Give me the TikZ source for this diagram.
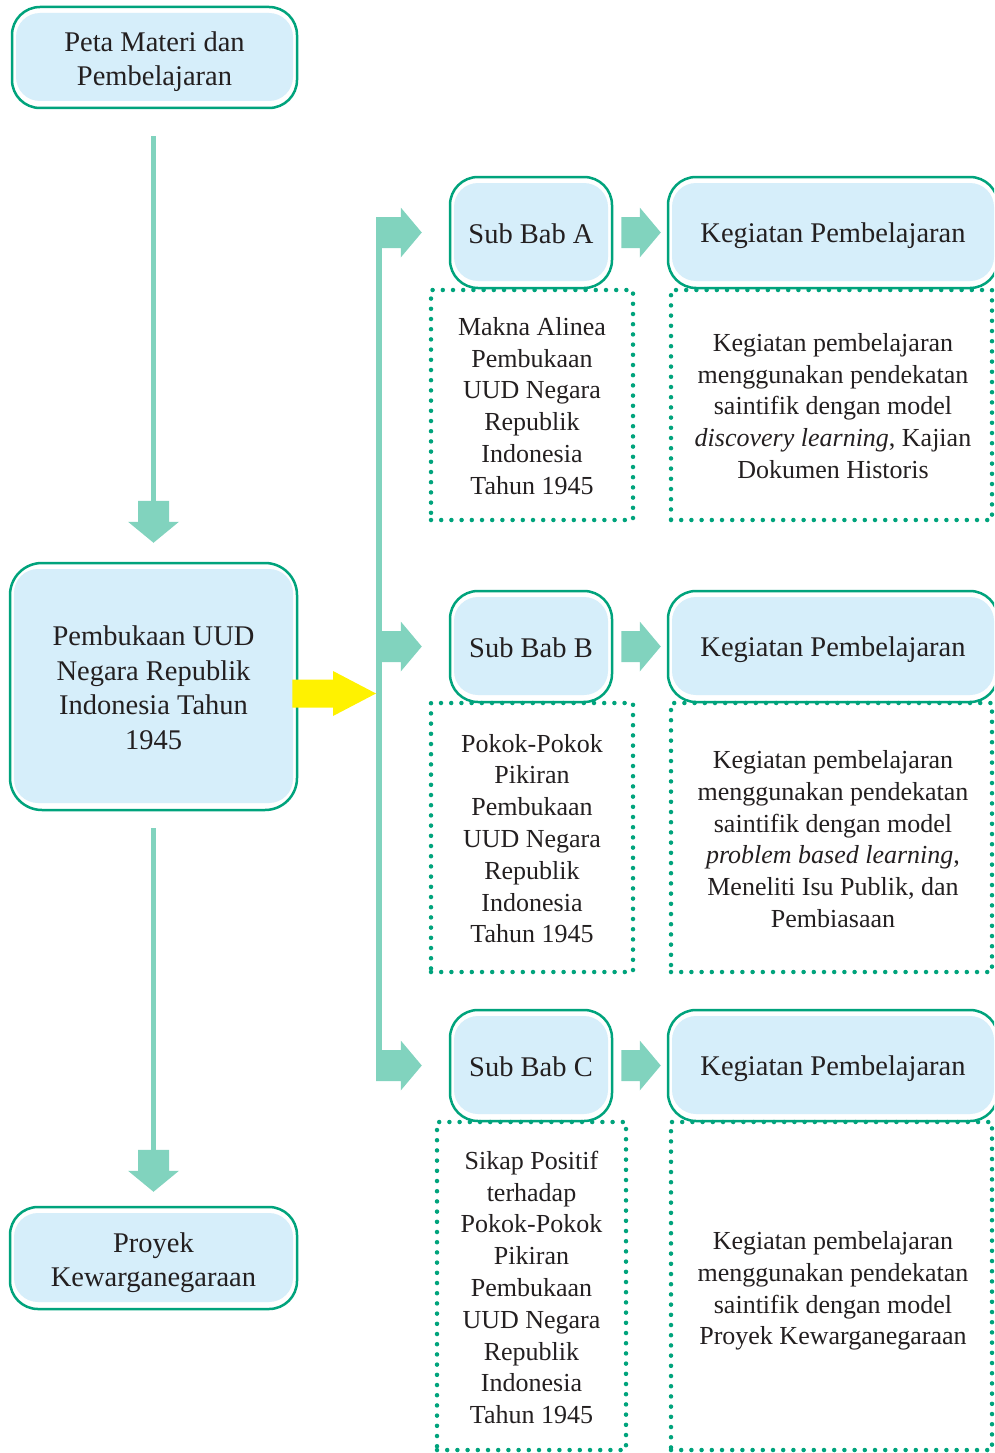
\documentclass[tikz,border=0pt]{standalone}
\usepackage{fontspec}
\setmainfont{Liberation Serif}
\usetikzlibrary{calc}
\definecolor{bgreen}{RGB}{0,163,124}
\definecolor{lblue}{RGB}{214,238,250}
\definecolor{ateal}{RGB}{129,211,190}
\definecolor{txt}{RGB}{35,31,32}
\definecolor{ayellow}{RGB}{255,242,0}
\newcommand\hdfont{\fontsize{28.5}{34.5}\selectfont}
\newcommand\bdfont{\fontsize{26}{31.8}\selectfont}
\tikzset{
 rbox/.style={draw=bgreen, line width=2.5pt, fill=white, rounded corners=28pt, inner sep=0pt,
   path picture={\fill[lblue, rounded corners=24pt] ([shift={(4pt,-6pt)}]path picture bounding box.north west) rectangle ([shift={(-4pt,7pt)}]path picture bounding box.south east);}},
 dbox/.style={draw=bgreen, line width=4.5pt, dash pattern=on 0pt off 10.2pt, line cap=round, inner sep=0pt},
 lblh/.style={font=\hdfont, align=center, text=txt, inner sep=0pt},
 lblb/.style={font=\bdfont, align=center, text=txt, inner sep=0pt},
}
\newcommand\downarrowblk[2]{%
 \draw[ateal, line width=5pt] let \p1=(#1), \p2=(#2) in (\x2,\y1) -- (\x2,\y2+41pt);
 \fill[ateal] let \p2=(#2) in (\x2-15.5pt,\y2+42pt) rectangle (\x2+15.5pt,\y2+21pt) (\x2-25.5pt,\y2+21pt) -- (\x2+25.5pt,\y2+21pt) -- (\x2,\y2) -- cycle;}
\newcommand\rightarrowblk[6]{%
 \fill[#6] let \p1=(#1), \p2=(#2) in (\x1,\y2+#3) -- (\x2-#5,\y2+#3) -- (\x2-#5,\y2+#4) -- (\x2,\y2) -- (\x2-#5,\y2-#4) -- (\x2-#5,\y2-#3) -- (\x1,\y2-#3) -- cycle;}
\begin{document}
\begin{tikzpicture}[x=1pt,y=-1pt]
\useasboundingbox (0,0) rectangle (994,1453);
\clip (0,0) rectangle (994,1453);
% left column
\node[rbox, minimum width=285pt, minimum height=101pt, label={[lblh, name=petaT, yshift=-4pt]center:{Peta Materi dan\\Pembelajaran}}] (peta) at (154.5,57.5) {};
\node[rbox, minimum width=287pt, minimum height=247pt, rounded corners=32pt, label={[lblh, name=mainT, yshift=-1pt]center:{Pembukaan UUD\\Negara Republik\\Indonesia Tahun\\1945}}] (main) at (153.5,686.5) {};
\node[rbox, minimum width=287pt, minimum height=102pt, label={[lblh, name=proyekT, yshift=-4.5pt]center:{Proyek\\Kewarganegaraan}}] (proyek) at (153.5,1258) {};
% sub bab boxes
\node[rbox, minimum width=162pt, minimum height=111pt, label={[lblh, name=subAT, yshift=-1pt]center:{Sub Bab A}}] (subA) at (531,232.5) {};
\node[rbox, minimum width=162pt, minimum height=111pt, label={[lblh, name=subBT, yshift=-1pt]center:{Sub Bab B}}] (subB) at (531,646.5) {};
\node[rbox, minimum width=162pt, minimum height=111pt, label={[lblh, name=subCT, yshift=-1pt]center:{Sub Bab C}}] (subC) at (531,1065.5) {};
\node[rbox, minimum width=330pt, minimum height=111pt, label={[lblh, name=kegAT, yshift=-3pt]center:{Kegiatan Pembelajaran}}] (kegA) at (833,232.5) {};
\node[rbox, minimum width=330pt, minimum height=111pt, label={[lblh, name=kegBT, yshift=-3pt]center:{Kegiatan Pembelajaran}}] (kegB) at (833,646.5) {};
\node[rbox, minimum width=330pt, minimum height=111pt, label={[lblh, name=kegCT, yshift=-3pt]center:{Kegiatan Pembelajaran}}] (kegC) at (833,1065.5) {};
% dotted boxes
\node[dbox, minimum width=202pt, minimum height=230pt, label={[lblb, name=dLAT, yshift=-1pt]center:{Makna Alinea\\Pembukaan\\UUD Negara\\Republik\\Indonesia\\Tahun 1945}}] (dLA) at (532,405) {};
\node[dbox, minimum width=321pt, minimum height=230pt, label={[lblb, name=dRAT, xshift=1.5pt, yshift=-1pt]center:{Kegiatan pembelajaran\\menggunakan pendekatan\\saintifik dengan model\\\textit{discovery learning}, Kajian\\Dokumen Historis}}] (dRA) at (831.5,405) {};
\node[dbox, minimum width=202pt, minimum height=269pt, label={[lblb, name=dLBT, yshift=-1pt]center:{Pokok-Pokok\\Pikiran\\Pembukaan\\UUD Negara\\Republik\\Indonesia\\Tahun 1945}}] (dLB) at (532,837.5) {};
\node[dbox, minimum width=321pt, minimum height=269pt, label={[lblb, name=dRBT, xshift=1.5pt, yshift=-1.5pt]center:{Kegiatan pembelajaran\\menggunakan pendekatan\\saintifik dengan model\\\textit{problem based learning},\\Meneliti Isu Publik, dan\\Pembiasaan}}] (dRB) at (831.5,837.5) {};
\node[dbox, minimum width=189pt, minimum height=328pt, label={[lblb, name=dLCT, yshift=-1.5pt]center:{Sikap Positif\\terhadap\\Pokok-Pokok\\Pikiran\\Pembukaan\\UUD Negara\\Republik\\Indonesia\\Tahun 1945}}] (dLC) at (531.5,1286) {};
\node[dbox, minimum width=321pt, minimum height=328pt, label={[lblb, name=dRCT, xshift=1.5pt, yshift=-5pt]center:{Kegiatan pembelajaran\\menggunakan pendekatan\\saintifik dengan model\\Proyek Kewarganegaraan}}] (dRC) at (831.5,1286) {};
% arrows
\downarrowblk{$(peta.south)+(0,27)$}{$(main.north)+(0,-19)$}
\downarrowblk{$(main.south)+(0,17)$}{$(proyek.north)+(0,-14)$}
\coordinate (spinex) at (376,0);
\fill[ateal] let \p1=(spinex |- subA.west), \p2=(spinex |- subC.west) in (\x1,\y1+15.5pt) rectangle (\x1+6pt,\y2-15.5pt);
\rightarrowblk{spinex |- subA.west}{$(subA.west)+(-27,0)$}{15.5pt}{25pt}{21pt}{ateal}
\rightarrowblk{spinex |- subB.west}{$(subB.west)+(-27,0)$}{15.5pt}{25pt}{21pt}{ateal}
\rightarrowblk{spinex |- subC.west}{$(subC.west)+(-27,0)$}{15.5pt}{25pt}{21pt}{ateal}
\rightarrowblk{$(subA.east)+(8,0)$}{$(kegA.west)+(-6,0)$}{15.5pt}{25pt}{21pt}{ateal}
\rightarrowblk{$(subB.east)+(8,0)$}{$(kegB.west)+(-6,0)$}{15.5pt}{25pt}{21pt}{ateal}
\rightarrowblk{$(subC.east)+(8,0)$}{$(kegC.west)+(-6,0)$}{15.5pt}{25pt}{21pt}{ateal}
\rightarrowblk{$(main.east)+(-6,7)$}{$(spinex |- main.east)+(0,7)$}{14pt}{22.5pt}{43pt}{ayellow}
\end{tikzpicture}
\end{document}
